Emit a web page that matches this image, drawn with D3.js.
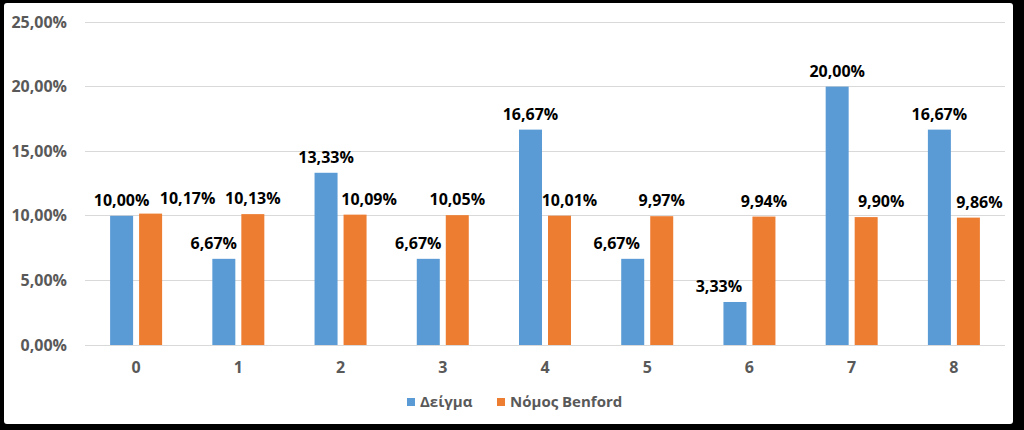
<!DOCTYPE html>
<html>
<head>
<meta charset="utf-8">
<script src="https://cdn.jsdelivr.net/npm/d3@7"></script>
<style>
  html, body { margin: 0; padding: 0; background: #000; }
  svg { display: block; }
  text { font-family: "Open Sans", "Noto Sans", sans-serif; font-weight: 700; }
</style>
</head>
<body>
<svg id="chart" width="1024" height="430"></svg>
<script>
const categories = ["0", "1", "2", "3", "4", "5", "6", "7", "8"];
const sampleValues = [10.00, 6.67, 13.33, 6.67, 16.67, 6.67, 3.33, 20.00, 16.67];
const benfordValues = [10.17, 10.13, 10.09, 10.05, 10.01, 9.97, 9.94, 9.90, 9.86];
const seriesNames = ["Δείγμα", "Νόμος Benford"];
const yTicks = [0, 5, 10, 15, 20, 25];

const colors = ["#5B9BD5", "#ED7D31"];
const fmt = v => d3.format(".2f")(v).replace(".", ",") + "%";

const svg = d3.select("#chart");
// frame
svg.append("rect").attr("x", 0).attr("y", 0).attr("width", 1024).attr("height", 430).attr("fill", "#000");
svg.append("rect").attr("x", 4).attr("y", 3).attr("width", 1009).attr("height", 421).attr("rx", 3).attr("fill", "#fff");

const plot = { left: 85, right: 1005, top: 22, bottom: 345 };

const x = d3.scaleBand().domain(categories).range([plot.left, plot.right]);
const y = d3.scaleLinear().domain([0, 25]).range([plot.bottom, plot.top]);

// gridlines
svg.append("g").selectAll("line").data(yTicks).join("line")
  .attr("x1", plot.left).attr("x2", plot.right)
  .attr("y1", d => y(d)).attr("y2", d => y(d))
  .attr("stroke", "#d9d9d9").attr("stroke-width", 1).attr("shape-rendering", "crispEdges");

// y axis labels
const yAxis = d3.axisLeft(y).tickValues(yTicks).tickSize(0).tickPadding(0).tickFormat(fmt);
const gy = svg.append("g").attr("transform", `translate(${plot.left - 18},0)`).call(yAxis);
gy.select(".domain").remove();
gy.selectAll("text").attr("fill", "#595959").style("font-size", "16px").style("font-family", "\"Open Sans\", sans-serif").style("font-weight", 700);

// x axis labels
const xAxis = d3.axisBottom(x).tickSize(0).tickPadding(0);
const gx = svg.append("g").attr("transform", `translate(0,${plot.bottom + 17})`).call(xAxis);
gx.select(".domain").remove();
gx.selectAll("text").attr("fill", "#595959").style("font-size", "16px").style("font-family", "\"Open Sans\", sans-serif").style("font-weight", 700);

const barW = 23, gap = 3;
const series = [sampleValues, benfordValues];
// label nudges to avoid overlaps (as in the reference)
const labelNudge = [
  [0, -10, 0, -10, 0, -16, -16, 0, 0],
  [37, 0, 14, 0, 10, 0, 0, 15, 11]
];

series.forEach((vals, si) => {
  const xOff = si === 0 ? -gap - barW : gap;
  const data = categories.map((c, i) => ({ c, v: vals[i], i }));
  svg.append("g").selectAll("rect").data(data).join("rect")
    .attr("x", d => x(d.c) + x.bandwidth() / 2 + xOff)
    .attr("width", barW)
    .attr("y", d => y(d.v))
    .attr("height", d => y(0) - y(d.v))
    .attr("fill", colors[si]);
  svg.append("g").selectAll("text").data(data).join("text")
    .attr("x", d => x(d.c) + x.bandwidth() / 2 + xOff + barW / 2 + labelNudge[si][d.i])
    .attr("y", d => y(d.v) - 10)
    .attr("text-anchor", "middle")
    .attr("fill", "#000")
    .style("font-size", "16px")
    .text(d => fmt(d.v));
});

// legend
const legend = svg.append("g").attr("transform", "translate(407,398)");
const lx = [0, 90];
seriesNames.forEach((n, i) => {
  legend.append("rect").attr("x", lx[i]).attr("y", 0).attr("width", 8).attr("height", 8).attr("fill", colors[i]);
  legend.append("text").attr("x", lx[i] + 13).attr("y", 4).attr("dy", "0.35em")
    .attr("fill", "#595959").style("font-size", "15px").text(n);
});
</script>
</body>
</html>
